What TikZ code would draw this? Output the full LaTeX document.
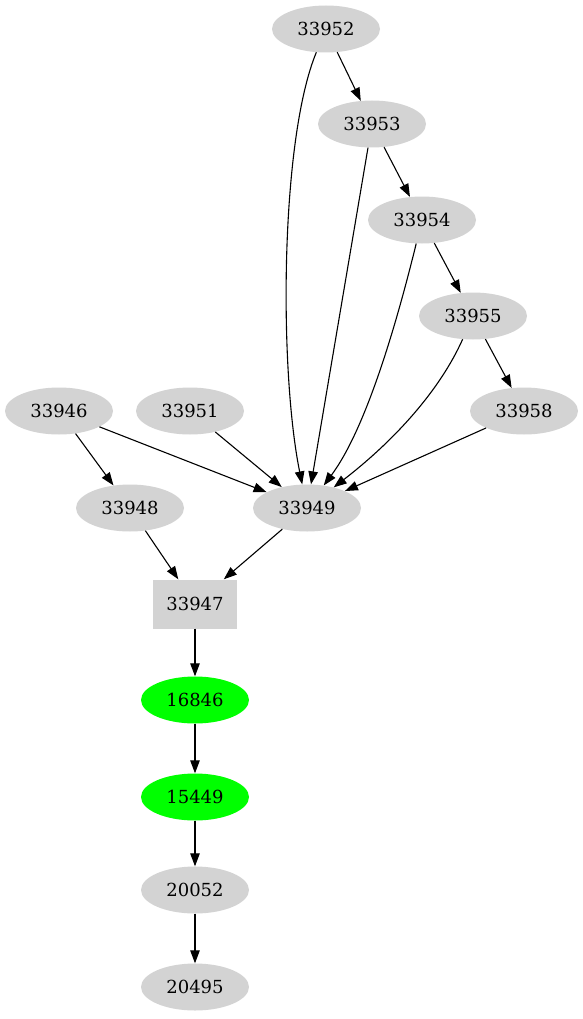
\documentclass[tikz,border=0pt]{standalone}
\usepackage{fontspec}
\setmainfont{DejaVu Serif}
\usetikzlibrary{arrows.meta,shapes.geometric}
\definecolor{lgray}{HTML}{D3D3D3}
\definecolor{vgreen}{HTML}{00FF00}
\begin{document}
\begin{tikzpicture}[x=1pt,y=-1pt,
  ell/.style={ellipse,fill=lgray,draw=none,minimum width=108pt,minimum height=47pt,inner sep=0pt,font=\fontsize{18}{20}\selectfont},
  gell/.style={ell,fill=vgreen},
  boxn/.style={rectangle,fill=lgray,draw=none,minimum width=84pt,minimum height=49pt,inner sep=0pt,font=\fontsize{18}{20}\selectfont},
  arr/.style={-{Triangle[length=13pt,width=9.5pt]},line width=1.1pt,black}]
\useasboundingbox (0,0) rectangle (583,1019);
\node[ell] (n33952) at (326,29) {33952};
\node[ell] (n33953) at (372,124) {33953};
\node[ell] (n33954) at (422,220) {33954};
\node[ell] (n33955) at (473,316) {33955};
\node[ell] (n33958) at (524,411) {33958};
\node[ell] (n33946) at (59,411) {33946};
\node[ell] (n33951) at (190,411) {33951};
\node[ell] (n33948) at (130,508) {33948};
\node[ell] (n33949) at (307,508) {33949};
\node[boxn] (n33947) at (195,604) {33947};
\node[gell] (n16846) at (195,700) {16846};
\node[gell] (n15449) at (195,797) {15449};
\node[ell] (n20052) at (195,890) {20052};
\node[ell] (n20495) at (195,987) {20495};
\draw[arr] (n33952) -- (n33953);
\draw[arr] (n33953) -- (n33954);
\draw[arr] (n33954) -- (n33955);
\draw[arr] (n33955) -- (n33958);
\draw[arr] (n33952) .. controls (280,140) and (279,370) .. (n33949);
\draw[arr] (n33953) -- (n33949);
\draw[arr] (n33954) .. controls (395,330) and (365,430) .. (n33949);
\draw[arr] (n33955) .. controls (440,390) and (395,440) .. (n33949);
\draw[arr] (n33958) -- (n33949);
\draw[arr] (n33951) -- (n33949);
\draw[arr] (n33946) -- (n33949);
\draw[arr] (n33946) -- (n33948);
\draw[arr] (n33948) -- (n33947);
\draw[arr] (n33949) -- (n33947);
\draw[arr] (n33947) -- (n16846);
\draw[arr] (n16846) -- (n15449);
\draw[arr] (n15449) -- (n20052);
\draw[arr] (n20052) -- (n20495);
\end{tikzpicture}
\end{document}
